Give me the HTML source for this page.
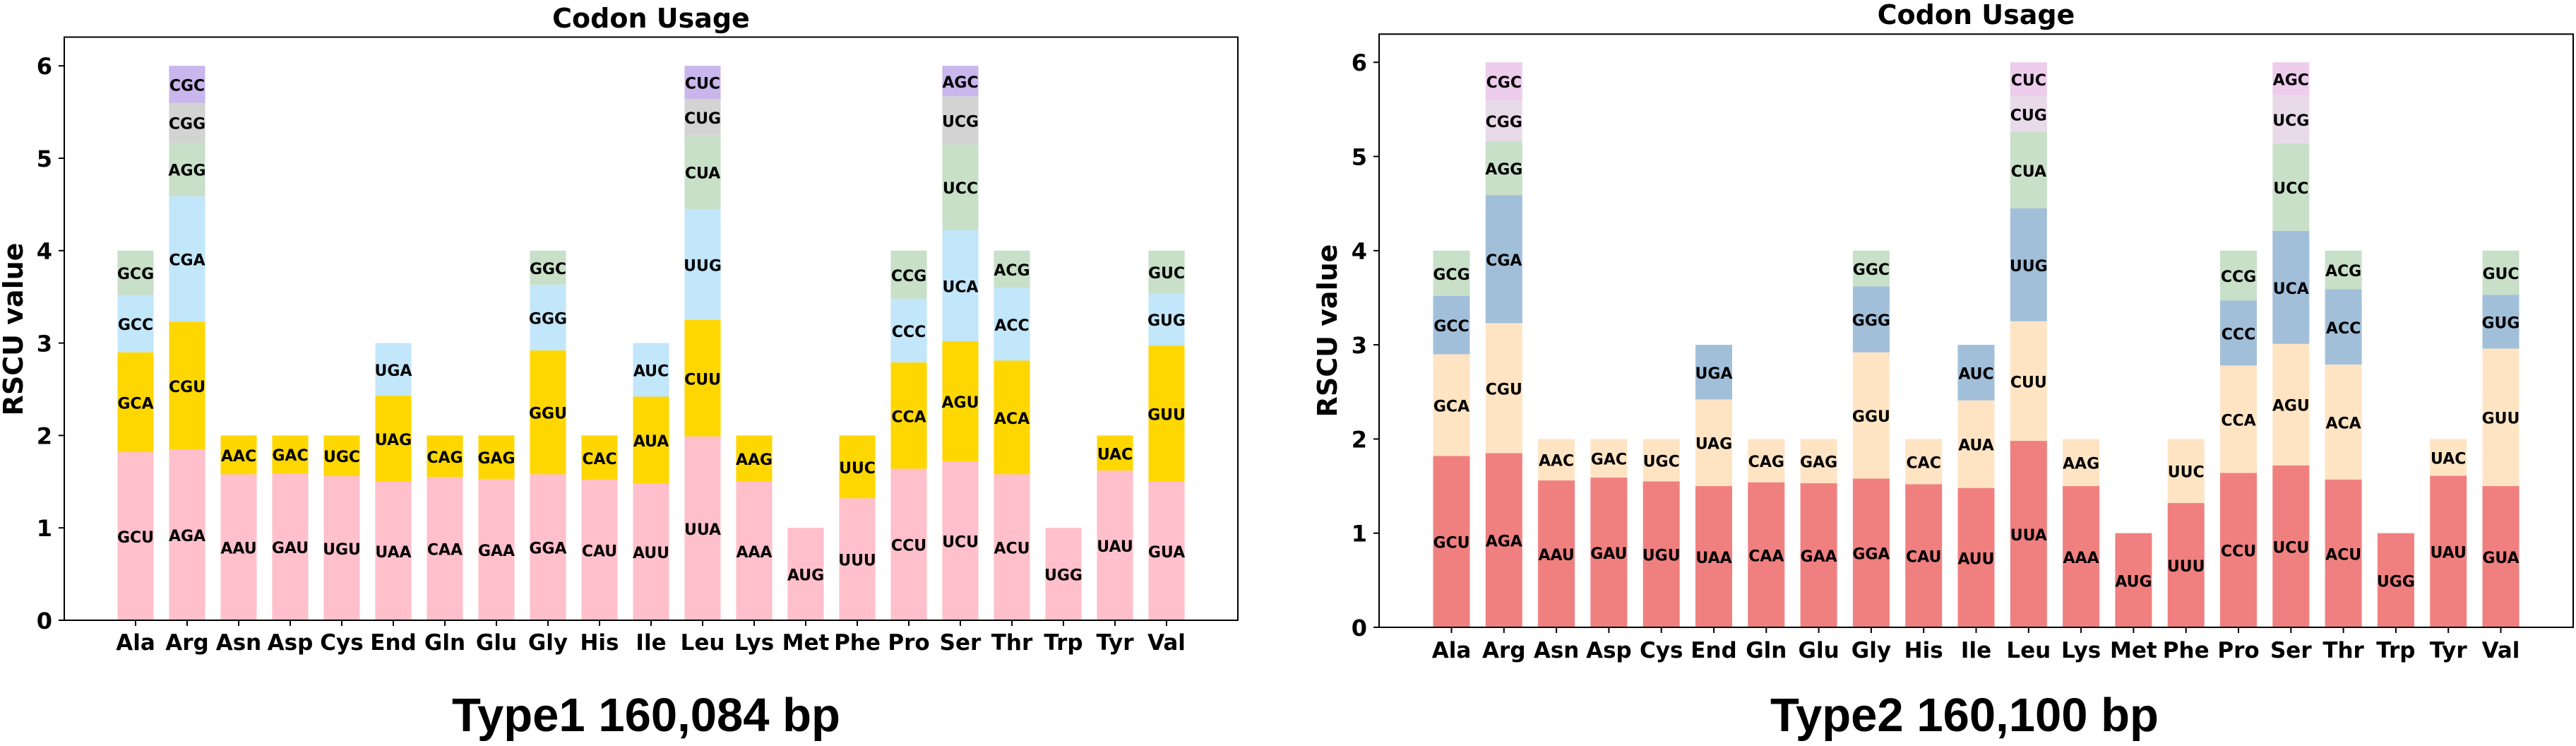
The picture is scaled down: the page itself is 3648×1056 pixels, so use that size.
<!DOCTYPE html>
<html><head><meta charset="utf-8"><style>
html,body{margin:0;padding:0;background:#fff;}
svg{display:block;}
</style></head><body>
<svg id="fig" width="3648" height="1056" viewBox="0 0 3648 1056" xmlns="http://www.w3.org/2000/svg"></svg>
<script>
const aminoAcids = ["Ala","Arg","Asn","Asp","Cys","End","Gln","Glu","Gly","His","Ile","Leu","Lys","Met","Phe","Pro","Ser","Thr","Trp","Tyr","Val"];
const codons = [
 ["GCU","GCA","GCC","GCG"],["AGA","CGU","CGA","AGG","CGG","CGC"],["AAU","AAC"],["GAU","GAC"],["UGU","UGC"],
 ["UAA","UAG","UGA"],["CAA","CAG"],["GAA","GAG"],["GGA","GGU","GGG","GGC"],["CAU","CAC"],["AUU","AUA","AUC"],
 ["UUA","CUU","UUG","CUA","CUG","CUC"],["AAA","AAG"],["AUG"],["UUU","UUC"],["CCU","CCA","CCC","CCG"],
 ["UCU","AGU","UCA","UCC","UCG","AGC"],["ACU","ACA","ACC","ACG"],["UGG"],["UAU","UAC"],["GUA","GUU","GUG","GUC"]
];
const rscuType1 = [
 [1.82,1.08,0.62,0.48],[1.85,1.38,1.36,0.58,0.43,0.40],[1.58,0.42],[1.59,0.41],[1.56,0.44],
 [1.50,0.93,0.57],[1.55,0.45],[1.53,0.47],[1.58,1.34,0.71,0.37],[1.52,0.48],[1.48,0.94,0.58],
 [1.99,1.26,1.20,0.80,0.39,0.36],[1.50,0.50],[1.00],[1.32,0.68],[1.64,1.15,0.69,0.52],
 [1.72,1.30,1.20,0.93,0.52,0.33],[1.58,1.23,0.79,0.40],[1.00],[1.62,0.38],[1.50,1.47,0.57,0.46]
];
const rscuType2 = [
 [1.82,1.08,0.62,0.48],[1.85,1.38,1.36,0.57,0.44,0.40],[1.56,0.44],[1.59,0.41],[1.55,0.45],
 [1.50,0.92,0.58],[1.54,0.46],[1.53,0.47],[1.58,1.34,0.70,0.38],[1.52,0.48],[1.48,0.93,0.59],
 [1.98,1.27,1.20,0.81,0.38,0.36],[1.50,0.50],[1.00],[1.32,0.68],[1.64,1.14,0.69,0.53],
 [1.72,1.29,1.20,0.93,0.51,0.35],[1.57,1.22,0.80,0.41],[1.00],[1.61,0.39],[1.50,1.46,0.57,0.47]
];
const yTicks = [0,1,2,3,4,5,6];
const colors1 = ["#FFC0CB","#FFD700","#C2E6FA","#C8DFC8","#D3D3D3","#C8B6EC"];
const colors2 = ["#F08080","#FFE4C4","#A2BFDA","#C8DFC8","#E8DAE8","#EDCCEC"];

const NS = "http://www.w3.org/2000/svg";
const svg = document.getElementById('fig');
function mk(tag, attrs, parent, txt){
  const e = document.createElementNS(NS, tag);
  for (const k in attrs) e.setAttribute(k, attrs[k]);
  if (txt !== undefined) e.textContent = txt;
  parent.appendChild(e);
  return e;
}
const DV = '"DejaVu Sans", sans-serif';

function drawChart(cfg){
  const g = mk('g', {}, svg);
  
  
  const x = i => cfg.x0 + i * cfg.step;
  const y = v => cfg.y0 - v * cfg.unit;
  const bw = cfg.step * 0.7;
  cfg.data.forEach((segs, i) => {
    let base = 0;
    segs.forEach((v, j) => {
      const r = mk('rect', {x: x(i) - bw/2, y: y(base + v), width: bw, height: v * cfg.unit, fill: cfg.colors[j]}, g);
      
      
      const t = mk('text', {x: x(i), y: y(base + v/2) + 9, 'text-anchor': 'middle', 'font-family': DV, 'font-weight': 'bold', 'font-size': 22, fill: '#000'}, g, codons[i][j]);
      
      
      base += v;
    });
    const tk = mk('line', {x1: x(i), x2: x(i), y1: cfg.y0, y2: cfg.y0 + 8, stroke: '#000', 'stroke-width': 2}, g);
    
    
    const tl = mk('text', {x: x(i), y: cfg.tickBase, 'text-anchor': 'middle', 'font-family': DV, 'font-weight': 'bold', 'font-size': 31}, g, aminoAcids[i]);
    
    
  });
  yTicks.forEach(v => {
    const tk = mk('line', {x1: cfg.left - 8, x2: cfg.left, y1: y(v), y2: y(v), stroke: '#000', 'stroke-width': 2}, g);
    
    
    const tl = mk('text', {x: cfg.left - 17, y: y(v) + 12, 'text-anchor': 'end', 'font-family': DV, 'font-weight': 'bold', 'font-size': 32}, g, String(v));
    
    
  });
  const fr = mk('rect', {x: cfg.left, y: cfg.top, width: cfg.right - cfg.left, height: cfg.y0 - cfg.top, fill: 'none', stroke: '#000', 'stroke-width': 2}, g);
  
  
  const tt = mk('text', {x: (cfg.left + cfg.right)/2, y: cfg.titleBase, 'text-anchor': 'middle', 'font-family': DV, 'font-weight': 'bold', 'font-size': 38}, g, 'Codon Usage');
  
  
  const yl = mk('text', {x: 0, y: 0, transform: 'translate(' + cfg.ylabX + ',' + cfg.ylabY + ') rotate(-90)', 'text-anchor': 'middle', 'font-family': DV, 'font-weight': 'bold', 'font-size': 38}, g, 'RSCU value');
  
  
  const bt = mk('text', {x: cfg.capX, y: 1035, 'text-anchor': 'middle', 'font-family': '"Liberation Sans", Arial, sans-serif', 'font-weight': 'bold', 'font-size': 67}, g, cfg.caption);
  
  
}

drawChart({name: 'chart-type1', data: rscuType1, colors: colors1, x0: 192, step: 73.0, y0: 878, unit: 130.8, left: 91, right: 1753, top: 52.5,
  tickBase: 920, titleBase: 39, ylabX: 32, ylabY: 466, capX: 915, caption: 'Type1 160,084 bp'});
drawChart({name: 'chart-type2', data: rscuType2, colors: colors2, x0: 2055.5, step: 74.3, y0: 888, unit: 133.3, left: 1953, right: 3644, top: 48.3,
  tickBase: 931, titleBase: 34, ylabX: 1893, ylabY: 468, capX: 2782, caption: 'Type2 160,100 bp'});
</script>
</body></html>
